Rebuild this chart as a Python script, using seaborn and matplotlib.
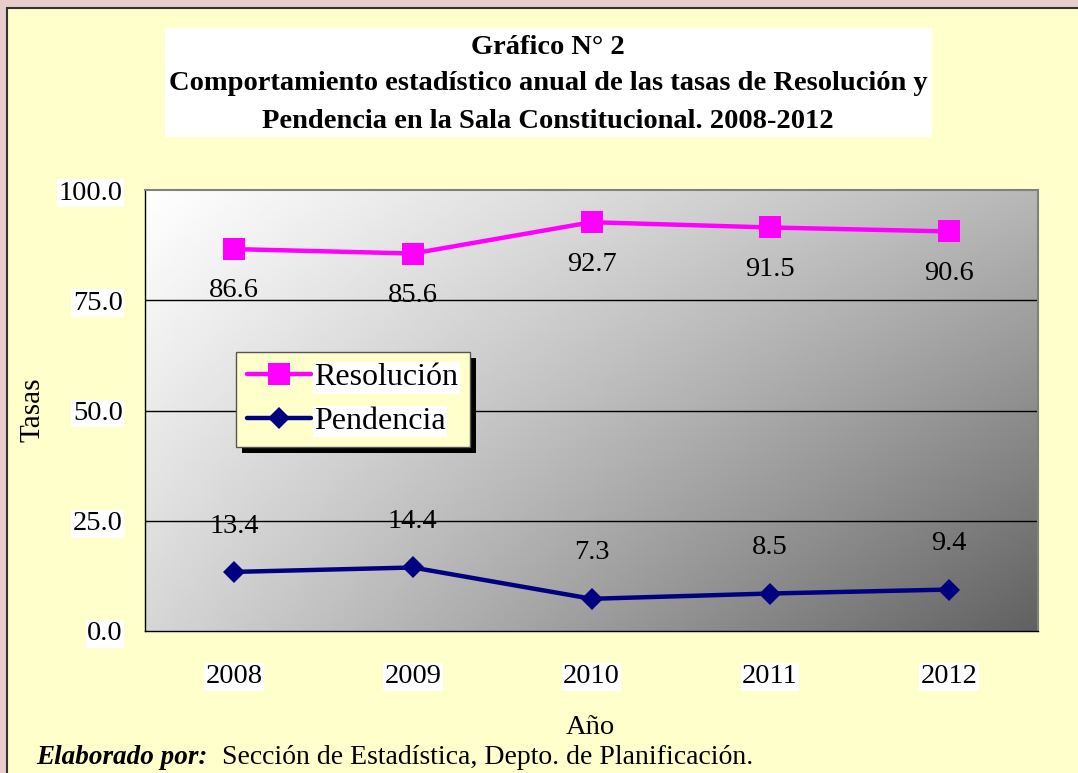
import numpy as np
import pandas as pd
import seaborn as sns
import matplotlib.pyplot as plt
from matplotlib.patches import Rectangle

years = ['2008', '2009', '2010', '2011', '2012']
resolucion = [86.6, 85.6, 92.7, 91.5, 90.6]
pendencia = [13.4, 14.4, 7.3, 8.5, 9.4]
series = ['Resolución', 'Pendencia']
yticks = [0, 25, 50, 75, 100]

df = pd.DataFrame({
    'Año': years * 2,
    'Tasa': resolucion + pendencia,
    'Serie': [series[0]] * len(years) + [series[1]] * len(years),
})

sns.set_style('white')
plt.rcParams['font.family'] = ['Liberation Serif', 'DejaVu Serif']
plt.rcParams['text.color'] = 'black'
plt.rcParams['xtick.color'] = 'black'
plt.rcParams['ytick.color'] = 'black'

W, H = 1078, 773
fig = plt.figure(figsize=(W / 100, H / 100), dpi=100)
fig.patch.set_facecolor('#E8CDCD')

# yellow panel with dark border
fig.patches.append(Rectangle((7 / W, -0.01), 1.1, 1 - 8 / H + 0.01, transform=fig.transFigure,
                             facecolor='#FFFFCC', edgecolor='#333333', linewidth=1.5, zorder=-2))
# white title box
fig.patches.append(Rectangle((165 / W, 1 - 137 / H), (932 - 165) / W, 109 / H,
                             transform=fig.transFigure, facecolor='white', edgecolor='none', zorder=-1))
title_lines = ['Gráfico N° 2',
               'Comportamiento estadístico anual de las tasas de Resolución y',
               'Pendencia en la Sala Constitucional. 2008-2012']
for i, line in enumerate(title_lines):
    fig.text(548 / W, 1 - (47 + 37 * i) / H, line, ha='center', va='center',
             fontsize=20.5, fontweight='bold')

ax = fig.add_axes([145 / W, 1 - 631 / H, 893 / W, 441 / H])
ax.set_facecolor('none')

# gradient background of the plot area (white top-left -> dark gray bottom-right)
gx, gy = np.meshgrid(np.linspace(0, 1, 200), np.linspace(0, 1, 200))
grad = 1 - (0.28 * gx + 0.16 * gy + 0.18 * gx * gy)
ax.imshow(grad, cmap='gray', vmin=0, vmax=1, extent=[0, 1, 0, 1], transform=ax.transAxes,
          aspect='auto', zorder=0, interpolation='bilinear')

sns.lineplot(data=df, x='Año', y='Tasa', hue='Serie', style='Serie',
             palette={'Resolución': '#FF00FF', 'Pendencia': '#000080'},
             markers={'Resolución': 's', 'Pendencia': 'D'}, dashes=False,
             markersize=16, linewidth=3.2, markeredgewidth=0, ax=ax, zorder=3)
for line in ax.lines:
    if line.get_marker() == 'D':
        line.set_markersize(11.5)

for i, v in enumerate(resolucion):
    ax.text(i, v - 9.5, f'{v:.1f}', ha='center', va='center', fontsize=20.5, zorder=4)
for i, v in enumerate(pendencia):
    ax.text(i, v + 10.4, f'{v:.1f}', ha='center', va='center', fontsize=20.5, zorder=4)

ax.set_xlim(-0.5, len(years) - 0.5)
ax.set_ylim(0, 100)
ax.set_yticks(yticks)
ax.set_yticklabels([f'{t:.1f}' for t in yticks])
for t in yticks[1:-1]:
    ax.axhline(t, color='black', linewidth=1, zorder=1)

ax.set_xticks(range(len(years)))
ax.set_xticks(np.arange(-0.5, len(years)), minor=True)
ax.tick_params(axis='x', which='major', length=0, pad=24, labelsize=20.5)
ax.tick_params(axis='x', which='minor', length=7, width=1, color='black', direction='out')
ax.tick_params(axis='y', length=6, width=1, color='black', direction='out', pad=10, labelsize=20.5)
for lbl in ax.get_xticklabels() + ax.get_yticklabels():
    lbl.set_bbox(dict(facecolor='white', edgecolor='none', pad=1))

ax.set_xlabel('')
ax.set_ylabel('')
for side in ['top', 'right']:
    ax.spines[side].set_color('#808080')
    ax.spines[side].set_linewidth(1.5)
for side in ['left', 'bottom']:
    ax.spines[side].set_color('black')
    ax.spines[side].set_linewidth(1)

fig.text(33 / W, 1 - 410 / H, 'Tasas', rotation=90, ha='center', va='center', fontsize=21)
fig.text(590 / W, 1 - 727 / H, 'Año', ha='center', va='center', fontsize=20.5)
fig.text(36 / W, 1 - 757 / H, 'Elaborado por:', ha='left', va='center', fontsize=19.5,
         fontweight='bold', fontstyle='italic')
fig.text(222 / W, 1 - 757 / H, 'Sección de Estadística, Depto. de Planificación.',
         ha='left', va='center', fontsize=20)

leg = ax.legend(loc='upper left', bbox_to_anchor=(0.102, 0.633), borderaxespad=0,
                fontsize=23, frameon=True, fancybox=False, handlelength=2.0,
                handletextpad=0.1, borderpad=0.35, labelspacing=0.45)
leg.get_frame().set_facecolor('#FFFFCC')
leg.get_frame().set_edgecolor('#555555')
leg.get_frame().set_alpha(1)
for t in leg.get_texts():
    t.set_bbox(dict(facecolor='white', edgecolor='none', pad=1))
leg.set_zorder(5)

# black drop shadow behind the legend
fig.canvas.draw()
bb = leg.get_window_extent()
fig.patches.append(Rectangle((bb.x0 + 6, bb.y0 - 6), bb.width, bb.height, transform=None,
                             facecolor='black', edgecolor='none', zorder=1.5))
ax.set_zorder(1)
ax.patch.set_visible(False)
sh = Rectangle((bb.x0 + 6, bb.y0 - 6), bb.width, bb.height, transform=None,
               facecolor='black', edgecolor='none', zorder=4.5)
fig.patches.pop()
ax.add_artist(sh)

fig.savefig('out.png', dpi=100, facecolor=fig.get_facecolor())
